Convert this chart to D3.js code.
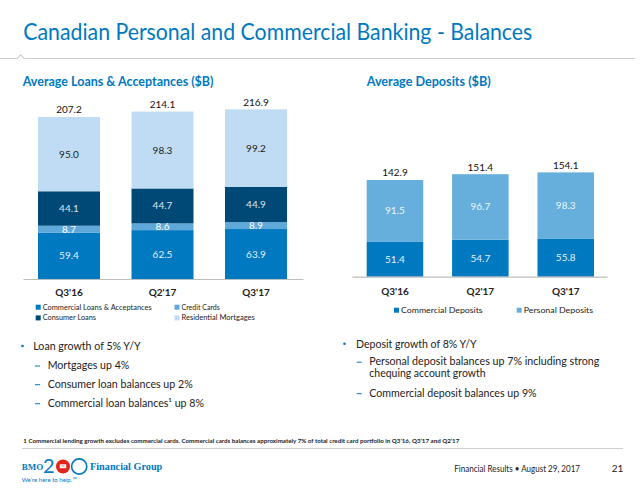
<!DOCTYPE html>
<html><head><meta charset="utf-8">
<script src="https://cdn.jsdelivr.net/npm/d3@7"></script>
<style>body{margin:0;background:#fff}svg{display:block}</style>
</head><body>
<svg id="c" width="640" height="490"></svg>
<script>
// ---------- DATA ----------
const loanCategories = ["Q3'16", "Q2'17", "Q3'17"];
const loanSeries = ["Commercial Loans & Acceptances", "Credit Cards", "Consumer Loans", "Residential Mortgages"];
const commercialLoans = [59.4, 62.5, 63.9];
const creditCards = [8.7, 8.6, 8.9];
const consumerLoans = [44.1, 44.7, 44.9];
const residentialMortgages = [95.0, 98.3, 99.2];
const loanTotals = [207.2, 214.1, 216.9];

const depositCategories = ["Q3'16", "Q2'17", "Q3'17"];
const depositSeries = ["Commercial Deposits", "Personal Deposits"];
const commercialDeposits = [51.4, 54.7, 55.8];
const personalDeposits = [91.5, 96.7, 98.3];
const depositTotals = [142.9, 151.4, 154.1];

const titleText = "Canadian Personal and Commercial Banking - Balances";
const loanTitle = "Average Loans & Acceptances ($B)";
const depositTitle = "Average Deposits ($B)";
const leftBullets = [
  {lvl: 0, text: "Loan growth of 5% Y/Y"},
  {lvl: 1, text: "Mortgages up 4%"},
  {lvl: 1, text: "Consumer loan balances up 2%"},
  {lvl: 1, text: "Commercial loan balances\u00B9 up 8%"}
];
const rightBullets = [
  {lvl: 0, text: ["Deposit growth of 8% Y/Y"]},
  {lvl: 1, text: ["Personal deposit balances up 7% including strong", "chequing account growth"]},
  {lvl: 1, text: ["Commercial deposit balances up 9%"]}
];
const footnote = "1 Commercial lending growth excludes commercial cards.  Commercial cards balances approximately 7% of total credit card portfolio in Q3\u201916, Q3\u201917 and Q2\u201917";
const footerText = "Financial Results \u2022 August 29, 2017";
const pageNumber = "21";

// ---------- STYLE ----------
const BLUE = "#0079c1";
const FONT = "Lato, 'Open Sans', sans-serif";
const SERIF = "'Liberation Serif', 'DejaVu Serif', serif";
const loanColors = ["#0079c1", "#5ea8da", "#004876", "#bfdcf4"];
const loanLabelColors = ["#e6f0f8", "#ffffff", "#dbe6ef", "#222222"];
const depositColors = ["#0079c1", "#66afdc"];
const depositLabelColors = ["#e6f0f8", "#eef6fc"];

const svg = d3.select("#c");

function fit(sel, w) {
  sel.each(function () {
    const n = this.getComputedTextLength();
    if (w && Math.abs(n - w) > 0.5) {
      this.setAttribute("textLength", w);
      this.setAttribute("lengthAdjust", "spacingAndGlyphs");
    }
  });
  return sel;
}

// ---------- HEADER ----------
fit(svg.append("text").attr("x", 23.3).attr("y", 40).attr("font-family", FONT)
  .attr("font-size", 23.5).attr("fill", BLUE).text(titleText), 509);

svg.append("path")
  .attr("d", "M0,58.5H17.2L20.7,54.8L24.2,58.5H635")
  .attr("fill", "#fff").attr("stroke", "#cfcfcf").attr("stroke-width", 1.2);

fit(svg.append("text").attr("x", 22.7).attr("y", 85.7).attr("font-family", FONT)
  .attr("font-size", 12.5).attr("font-weight", "bold").attr("fill", BLUE).text(loanTitle), 190.6);
fit(svg.append("text").attr("x", 366.7).attr("y", 85.7).attr("font-family", FONT)
  .attr("font-size", 12.5).attr("font-weight", "bold").attr("fill", BLUE).text(depositTitle), 124);

// ---------- GENERIC STACKED CHART ----------
function stackedChart(opts) {
  const {cats, keys, values, totals, colors, labelColors, xRange, pad, yDomain, yRange,
         axisX, catY, legendCols, legendRows, legendTextW} = opts;
  const rows = cats.map((c, i) => {
    const o = {cat: c};
    keys.forEach((k, j) => o[k] = values[j][i]);
    return o;
  });
  const stack = d3.stack().keys(keys)(rows);
  const x = d3.scaleBand().domain(cats).range(xRange).paddingInner(pad).paddingOuter(pad / 2);
  const y = d3.scaleLinear().domain(yDomain).range(yRange);
  const g = svg.append("g");

  stack.forEach((layer, j) => {
    g.selectAll(null).data(layer).enter().append("rect")
      .attr("x", d => x(d.data.cat)).attr("width", x.bandwidth())
      .attr("y", d => y(d[1])).attr("height", d => y(d[0]) - y(d[1]))
      .attr("fill", colors[j]);
  });
  stack.forEach((layer, j) => {
    g.selectAll(null).data(layer).enter().append("text")
      .attr("x", d => x(d.data.cat) + x.bandwidth() / 2)
      .attr("y", d => (y(d[0]) + y(d[1])) / 2)
      .attr("dy", "0.35em").attr("text-anchor", "middle")
      .attr("font-family", FONT).attr("font-size", 10).attr("fill", labelColors[j])
      .text(d => (d[1] - d[0]).toFixed(1));
  });
  g.selectAll(null).data(cats).enter().append("text")
    .attr("x", d => x(d) + x.bandwidth() / 2)
    .attr("y", (d, i) => y(totals[i]) - 3.5)
    .attr("text-anchor", "middle").attr("font-family", FONT).attr("font-size", 10)
    .attr("fill", "#111")
    .text((d, i) => totals[i].toFixed(1));

  // baseline axis
  const axis = g.append("g").attr("transform", `translate(0,${y(0)})`)
    .call(d3.axisBottom(d3.scaleLinear().domain([0, 1]).range(axisX)).ticks(0).tickSize(0).tickFormat(""));
  axis.select(".domain").attr("stroke", "#bdbdbd").attr("stroke-width", 1.2);

  // category labels
  const cx = d3.axisBottom(x).tickSize(0);
  const ca = g.append("g").attr("transform", `translate(0,${catY})`).call(cx);
  ca.select(".domain").remove();
  ca.selectAll("text").attr("font-family", FONT).attr("font-size", 10)
    .attr("font-weight", "bold").attr("fill", "#222").attr("dy", 0).attr("y", 0);

  // legend
  keys.forEach((k, j) => {
    const lx = legendCols[j % legendCols.length];
    const ly = legendRows[Math.floor(j / legendCols.length)];
    g.append("rect").attr("x", lx).attr("y", ly - 4.8).attr("width", 5).attr("height", 5).attr("fill", colors[j]);
    fit(g.append("text").attr("x", lx + 7).attr("y", ly).attr("font-family", FONT)
      .attr("font-size", 8.2).attr("fill", "#222").text(k), legendTextW[j]);
  });
}

stackedChart({
  cats: loanCategories, keys: loanSeries,
  values: [commercialLoans, creditCards, consumerLoans, residentialMortgages],
  totals: loanTotals, colors: loanColors, labelColors: loanLabelColors,
  xRange: [22.25, 302.75], pad: 0.337, yDomain: [0, 230], yRange: [279, 279 - 230 * 0.782],
  axisX: [23, 303], catY: 296,
  legendCols: [35.7, 174.5], legendRows: [309.5, 320.2],
  legendTextW: [109, 38.3, 53.3, 73.3]
});

stackedChart({
  cats: depositCategories, keys: depositSeries,
  values: [commercialDeposits, personalDeposits],
  totals: depositTotals, colors: depositColors, labelColors: depositLabelColors,
  xRange: [352.25, 608.45], pad: 0.338, yDomain: [0, 160], yRange: [276.7, 276.7 - 160 * 0.677],
  axisX: [352, 607], catY: 295,
  legendCols: [394, 516.7], legendRows: [312.5],
  legendTextW: [81.6, 69.4]
});

// ---------- BULLETS ----------
const leftY = [350, 369, 387.7, 406.7];
const leftW = [107.4, 81.6, 145, 156.3];
leftBullets.forEach((b, i) => {
  if (b.lvl === 0) {
    svg.append("circle").attr("cx", 22.5).attr("cy", leftY[i] - 4).attr("r", 1.3).attr("fill", BLUE);
  } else {
    svg.append("line").attr("x1", 35).attr("x2", 40).attr("y1", leftY[i] - 3).attr("y2", leftY[i] - 3)
      .attr("stroke", BLUE).attr("stroke-width", 1);
  }
  fit(svg.append("text").attr("x", b.lvl === 0 ? 33.3 : 47.7).attr("y", leftY[i])
    .attr("font-family", FONT).attr("font-size", 10.8).attr("fill", "#222").text(b.text), leftW[i]);
});

const rightY = [[347.7], [365.2, 376.9], [396.7]];
const rightW = [[120.7], [230, 116.3], [167.3]];
rightBullets.forEach((b, i) => {
  if (b.lvl === 0) {
    svg.append("circle").attr("cx", 344.5).attr("cy", rightY[i][0] - 4).attr("r", 1.3).attr("fill", BLUE);
  } else {
    svg.append("line").attr("x1", 356.7).attr("x2", 361.7).attr("y1", rightY[i][0] - 3).attr("y2", rightY[i][0] - 3)
      .attr("stroke", BLUE).attr("stroke-width", 1);
  }
  b.text.forEach((t, k) => {
    fit(svg.append("text").attr("x", b.lvl === 0 ? 356 : 369.3).attr("y", rightY[i][k])
      .attr("font-family", FONT).attr("font-size", 10.8).attr("fill", "#222").text(t), rightW[i][k]);
  });
});

// ---------- FOOTER ----------
fit(svg.append("text").attr("x", 23.3).attr("y", 443.3).attr("font-family", FONT)
  .attr("font-size", 6.3).attr("font-weight", "bold").attr("fill", "#222").text(footnote), 436);
svg.append("line").attr("x1", 22).attr("x2", 623).attr("y1", 448.5).attr("y2", 448.5)
  .attr("stroke", "#cfcfcf").attr("stroke-width", 1.2);

// logo
fit(svg.append("text").attr("x", 21.7).attr("y", 470).attr("font-family", SERIF)
  .attr("font-size", 9).attr("font-weight", "bold").attr("fill", BLUE).text("BMO"), 21.5);
svg.append("text").attr("x", 43).attr("y", 472.7).attr("font-family", FONT)
  .attr("font-size", 20).attr("fill", BLUE).text("2");
svg.append("circle").attr("cx", 63).attr("cy", 466.5).attr("r", 7).attr("fill", "#e2231a");
svg.append("path").attr("d", "M59.5,464H66.5V468.5H59.5Z M61.5,466H64.5").attr("fill", "#fff")
  .attr("stroke", "#e2231a").attr("stroke-width", 0.6);
svg.append("circle").attr("cx", 79.2).attr("cy", 466.5).attr("r", 7.6).attr("fill", "none")
  .attr("stroke", BLUE).attr("stroke-width", 1.6);
fit(svg.append("text").attr("x", 90).attr("y", 470).attr("font-family", SERIF)
  .attr("font-size", 9.5).attr("font-weight", "bold").attr("fill", BLUE).text("Financial Group"), 72.3);
fit(svg.append("text").attr("x", 21.7).attr("y", 482.3).attr("font-family", FONT)
  .attr("font-size", 6.3).attr("fill", BLUE).text("We\u2019re here to help.\u2122"), 55);

fit(svg.append("text").attr("x", 454.3).attr("y", 471.7).attr("font-family", FONT)
  .attr("font-size", 10).attr("fill", "#222").text(footerText), 125.7);
fit(svg.append("text").attr("x", 611.7).attr("y", 471.7).attr("font-family", FONT)
  .attr("font-size", 10).attr("fill", "#222").text(pageNumber), 11.6);
</script>
</body></html>
